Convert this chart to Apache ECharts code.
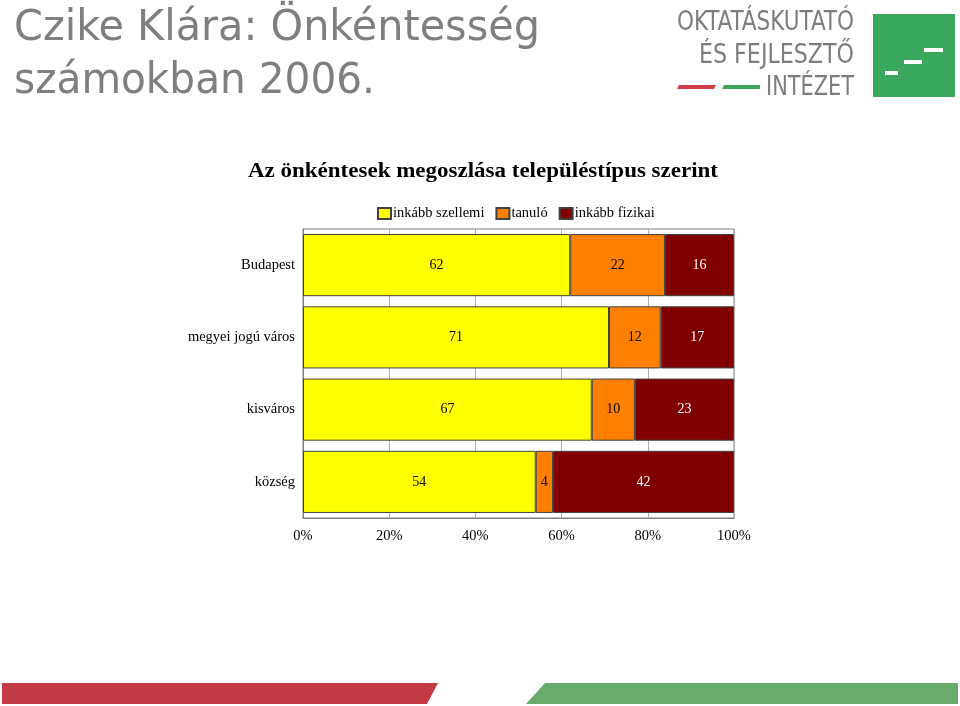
<!DOCTYPE html>
<html><head><meta charset="utf-8">
<script src="https://cdn.jsdelivr.net/npm/echarts@6/dist/echarts.min.js"></script>
<style>html,body{margin:0;padding:0;background:#fff}#c{width:960px;height:706px}</style>
</head><body><div id="c"></div>
<script>
const categories = ['Budapest', 'megyei jogú város', 'kisváros', 'község'];
const seriesNames = ['inkább szellemi', 'tanuló', 'inkább fizikai'];
const szellemi = [62, 71, 67, 54];
const tanulo = [22, 12, 10, 4];
const fizikai = [16, 17, 23, 42];
const colors = ['#FFFF00', '#FF8000', '#800000'];
const labelColors = ['#000', '#000', '#fff'];
const values = [szellemi, tanulo, fizikai];

const serif = '"Liberation Serif", "Times New Roman", serif';
const cond = '"DejaVu Sans Condensed", "DejaVu Sans", sans-serif';

const ctx = document.createElement('canvas').getContext('2d');
function fitText(text, font, size, x, baseline, targetW, fill, anchorRight, k) {
  const f = font.replace('SZ', size + 'px');
  ctx.font = f;
  const w = ctx.measureText(text).width;
  const s = targetW / w;
  return {
    type: 'text', x: anchorRight ? x - targetW : x, y: baseline - (k || 0.86) * size, scaleX: s, scaleY: 1,
    style: { text: text, font: f, fill: fill }
  };
}

const chart = echarts.init(document.getElementById('c'));
chart.setOption({
  animation: false,
  backgroundColor: '#fff',
  legend: {
    data: seriesNames, left: 372, top: 201,
    itemWidth: 13, itemHeight: 11, itemGap: 11, icon: 'rect',
    textStyle: { fontFamily: serif, fontSize: 14.5, color: '#000', padding: [0,0,0,-3] }
  },
  grid: { left: 303, top: 229, width: 431, height: 289, show: true, borderColor: '#808080', borderWidth: 1 },
  xAxis: {
    type: 'value', min: 0, max: 100, interval: 20,
    axisLabel: { formatter: '{value}%', fontFamily: serif, fontSize: 14.5, color: '#000', margin: 11 },
    axisLine: { show: true, lineStyle: { color: '#808080' } },
    axisTick: { show: false },
    splitLine: { show: true, lineStyle: { color: '#b0b0b0' } }
  },
  yAxis: {
    type: 'category', data: categories, inverse: true,
    axisLabel: { fontFamily: serif, fontSize: 14.5, color: '#000', margin: 8 },
    axisLine: { show: true, lineStyle: { color: '#808080' } },
    axisTick: { show: false }
  },
  series: seriesNames.map((n, i) => ({
    name: n, type: 'bar', stack: 'all', data: values[i],
    barCategoryGap: '14%',
    itemStyle: { color: colors[i], borderColor: '#404040', borderWidth: 1 },
    label: { show: true, position: 'inside', fontFamily: serif, fontSize: 14, color: labelColors[i] }
  })),
  graphic: [
    fitText('Az önkéntesek megoszlása településtípus szerint', 'bold SZ ' + serif, 20, 248, 178, 470, '#000', false, 0.8),
    fitText('Czike Klára: Önkéntesség', 'SZ ' + cond, 42, 14, 44, 526, '#7f7f7f'),
    fitText('számokban 2006.', 'SZ ' + cond, 42, 14, 97, 361, '#7f7f7f'),
    fitText('OKTATÁSKUTATÓ', 'SZ ' + cond, 26, 854, 33, 177, '#7d7d7d', true),
    fitText('ÉS FEJLESZTŐ', 'SZ ' + cond, 26, 854, 66, 155, '#7d7d7d', true),
    fitText('INTÉZET', 'SZ ' + cond, 26, 854, 98, 88, '#7d7d7d', true),
    { type: 'polygon', shape: { points: [[679,85],[716,85],[714,89],[677,89]] }, style: { fill: '#d23e47' } },
    { type: 'polygon', shape: { points: [[724,85],[760,85],[760,89],[722,89]] }, style: { fill: '#3ea75e' } },
    { type: 'rect', shape: { x: 873, y: 14, width: 82, height: 83 }, style: { fill: '#3aa85c' } },
    { type: 'rect', shape: { x: 885, y: 71, width: 13, height: 4 }, style: { fill: '#fff' } },
    { type: 'rect', shape: { x: 904, y: 60, width: 18, height: 4 }, style: { fill: '#fff' } },
    { type: 'rect', shape: { x: 924, y: 48, width: 19, height: 4 }, style: { fill: '#fff' } },
    { type: 'polygon', shape: { points: [[2,683],[438,683],[427,704],[2,704]] }, style: { fill: '#c23a43' } },
    { type: 'polygon', shape: { points: [[545,683],[958,683],[958,704],[526,704]] }, style: { fill: '#69ab6b' } }
  ]
});
</script></body></html>
